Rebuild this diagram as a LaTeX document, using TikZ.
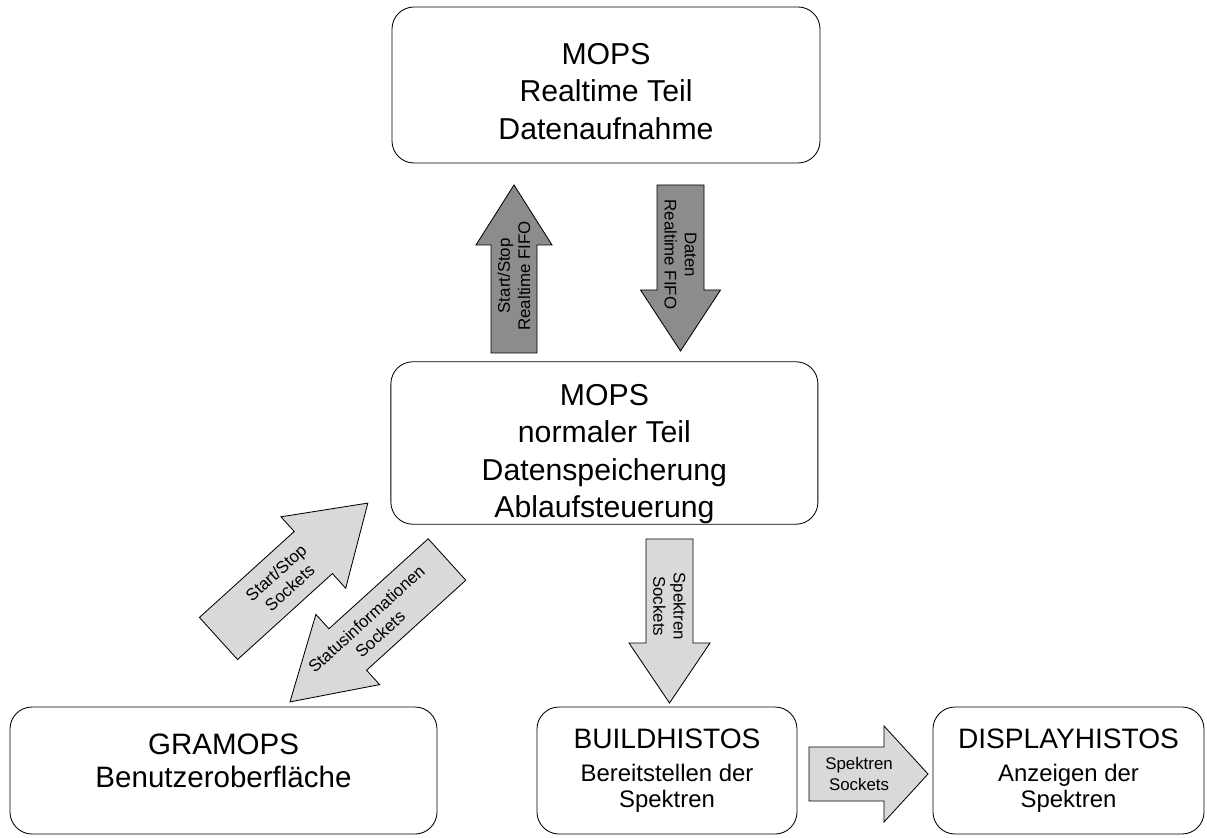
\documentclass[tikz,border=0pt]{standalone}
\usepackage{fontspec}
\setmainfont{Liberation Sans}
\usetikzlibrary{shapes,arrows,positioning,calc}
\definecolor{darkfill}{RGB}{140,140,140}
\definecolor{lightfill}{RGB}{217,217,217}
% length / head length / half shaft / half head / fill
\tikzset{pics/fatarrow/.style args={#1/#2/#3/#4/#5}{code={
  \draw[fill=#5] (0,-#3) -- (#1-#2,-#3) -- (#1-#2,-#4) -- (#1,0) -- (#1-#2,#4) -- (#1-#2,#3) -- (0,#3) -- cycle;
}}}

\begin{document}
\begin{tikzpicture}[line width=0.6pt,
  box/.style={draw,rounded corners=0.55cm,align=center,inner sep=0pt},
  atext/.style={font=\fontsize{12}{14.5}\selectfont,align=center}]
\useasboundingbox (0,0) rectangle (30.175,20.925);
\node[box,minimum width=10.7cm,minimum height=3.9cm,font=\fontsize{21.5}{26.7}\selectfont] (rtteil) at (15.15,18.8) {\rule{0pt}{24pt}MOPS\\Realtime Teil\\Datenaufnahme};
\node[box,minimum width=10.675cm,minimum height=4cm,font=\fontsize{21.5}{26.7}\selectfont] (normteil) at (15.11,9.85) {\rule{0pt}{31pt}MOPS\\normaler Teil\\Datenspeicherung\\Ablaufsteuerung};
\node[box,minimum width=10.675cm,minimum height=3.175cm,font=\fontsize{21}{23.4}\selectfont] (gramops) at (5.5875,1.6625) {GRAMOPS\\Benutzeroberfläche\rule[-14pt]{0pt}{14pt}};
\node[box,minimum width=6.5cm,minimum height=3.175cm,font=\fontsize{17}{18.6}\selectfont] (buildh) at (16.675,1.6625) {{\fontsize{20}{23}\selectfont BUILDHISTOS}\\[5pt]Bereitstellen der\\Spektren};
\node[box,minimum width=6.775cm,minimum height=3.175cm,font=\fontsize{17}{18.6}\selectfont] (displayh) at (26.7125,1.6625) {{\fontsize{20}{23}\selectfont DISPLAYHISTOS}\\[5pt]Anzeigen der\\Spektren};

\coordinate (startrt) at (12.85,12.1);
\coordinate (datenrt) at (17.0125,16.3);
\coordinate (spekdown) at (16.7375,7.45);
\coordinate (spekright) at (20.225,1.575);
\coordinate (startsock) at (5.4625,4.9625);
\coordinate (statsock) at (11.175,6.9375);

\pic[rotate=90] at (startrt) {fatarrow={4.2/1.5/0.575/0.95/darkfill}};
\pic[rotate=-90] at (datenrt) {fatarrow={4.15/1.525/0.5875/1/darkfill}};
\pic[rotate=-90] at (spekdown) {fatarrow={4.1/1.5/0.5875/1.0125/lightfill}};
\pic at (spekright) {fatarrow={2.975/1.1/0.675/1.2/lightfill}};
\pic[rotate=42.2] at (startsock) {fatarrow={5.04/1.84/0.71/1.205/lightfill}};
\pic[rotate=222.2] at (statsock) {fatarrow={5.3/1.95/0.7/1.185/lightfill}};

\node[atext,rotate=90] (startrttxt) at ($(startrt)+(90:1.93)$) {Start/Stop\\Realtime FIFO};
\node[atext,rotate=-90] (datenrttxt) at ($(datenrt)+(-90:1.74)$) {Daten\\Realtime FIFO};
\node[atext,rotate=-90] (spekdowntxt) at ($(spekdown)+(-90:1.68)$) {Spektren\\Sockets};
\node[atext] (spekrighttxt) at ($(spekright)+(0:1.25)$) {Spektren\\Sockets};
\node[atext,rotate=42.2] (startsocktxt) at ($(startsock)+(42.2:2.17)$) {Start/Stop\\Sockets};
\node[atext,rotate=42.2] (statsocktxt) at ($(statsock)+(222.2:2.49)$) {Statusinformationen\\Sockets};
\end{tikzpicture}
\end{document}
